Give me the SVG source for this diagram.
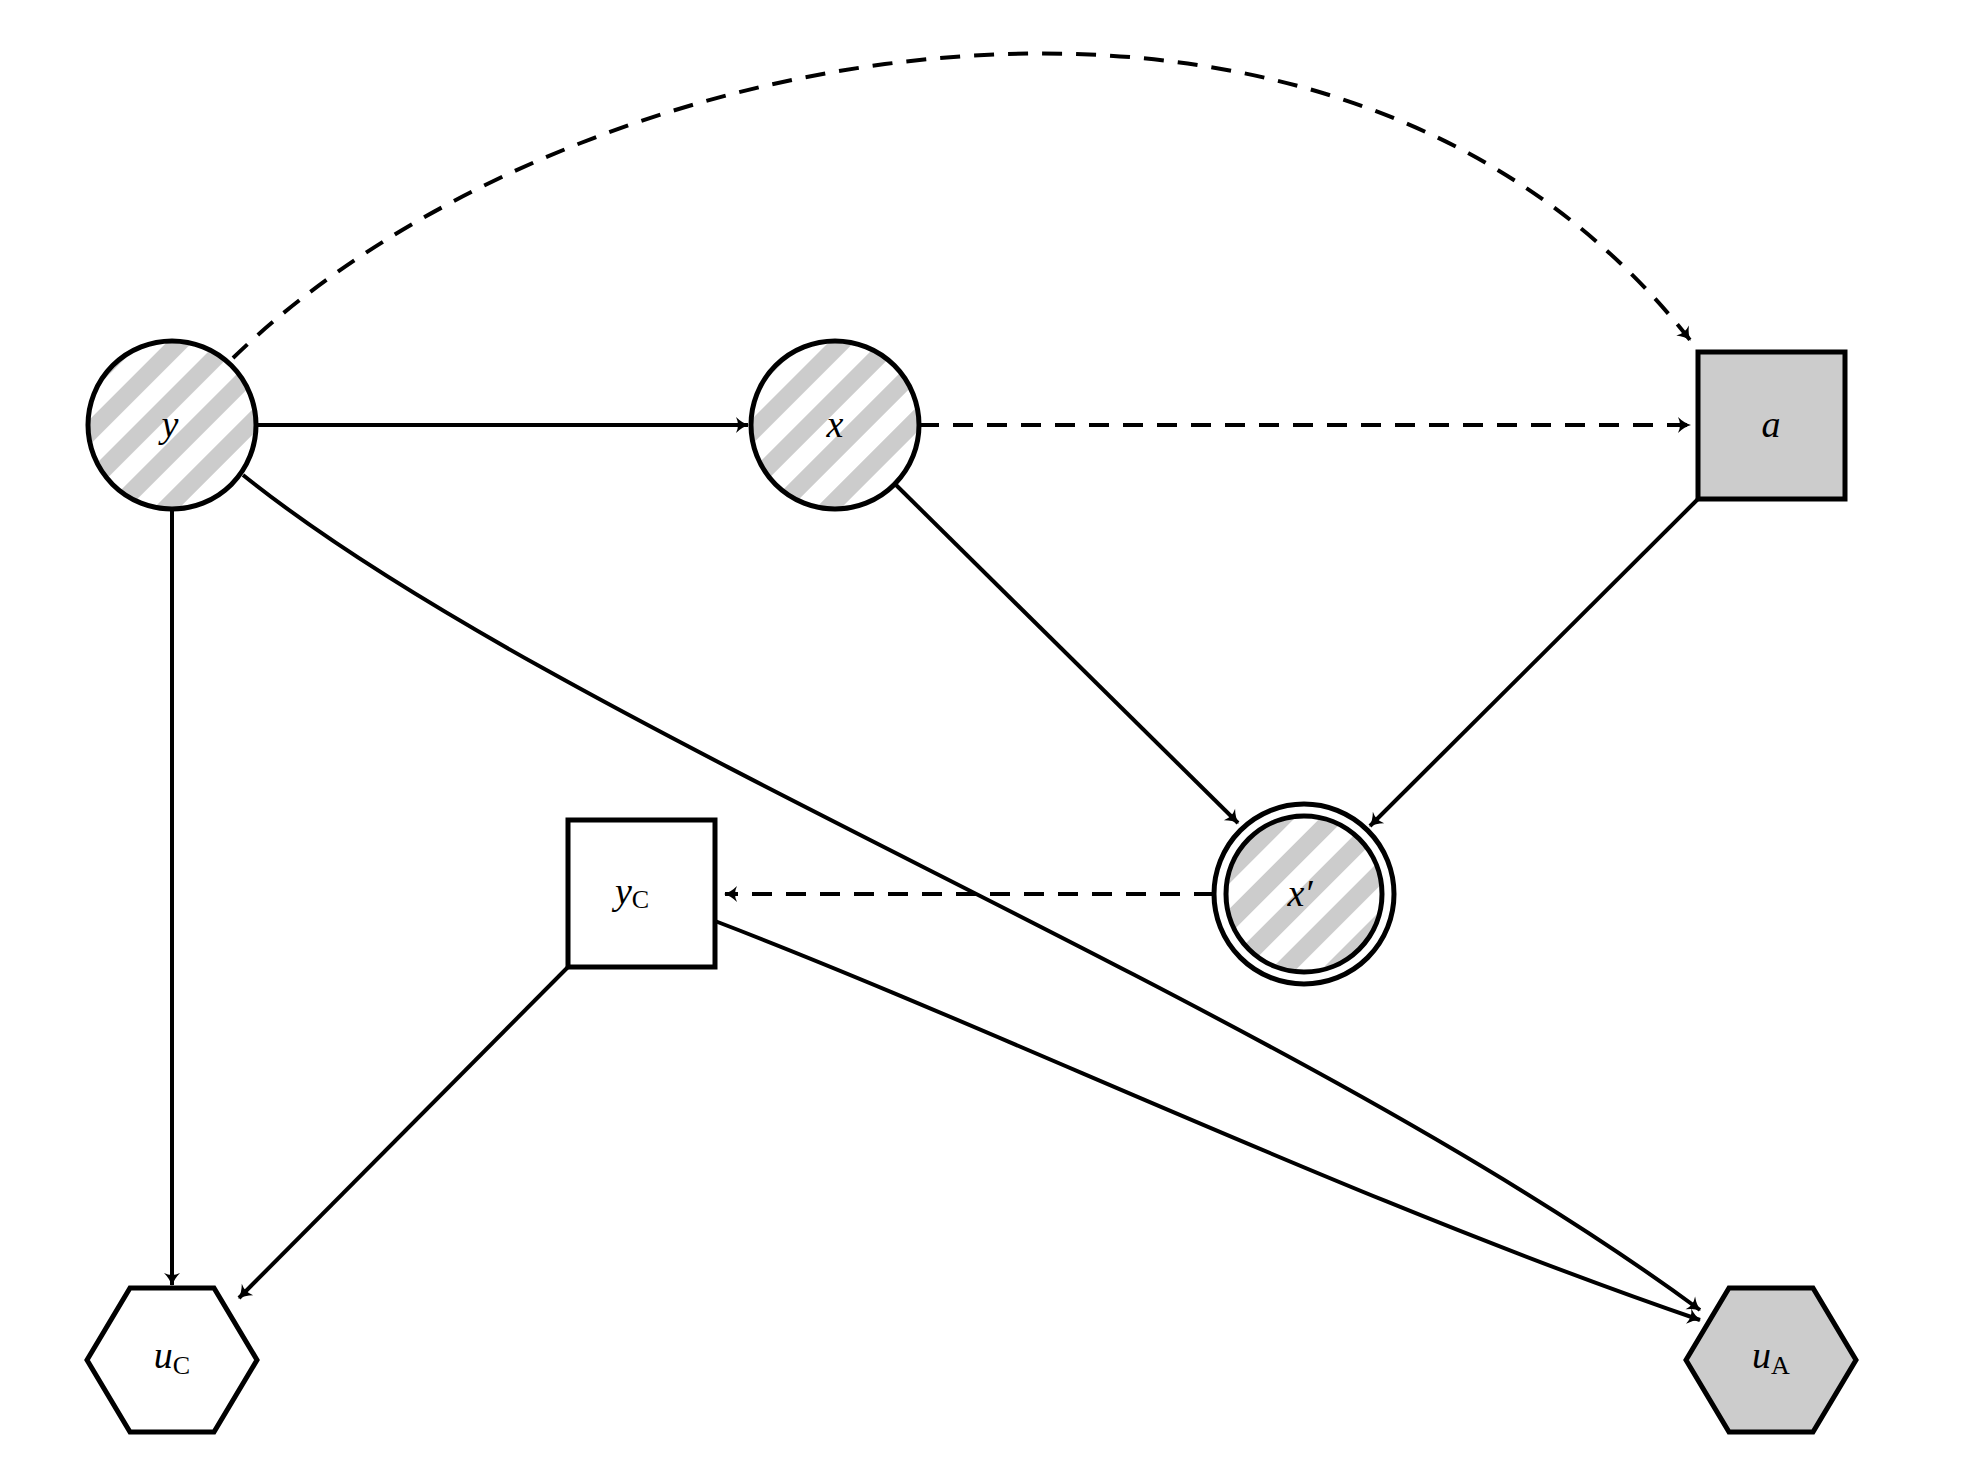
<svg xmlns="http://www.w3.org/2000/svg" width="1969" height="1481" viewBox="0 0 1969 1481">
<style>
.n{stroke:#000;stroke-width:5;}
.e{fill:none;stroke:#000;stroke-width:4;marker-end:url(#ar);}
.d{stroke-dasharray:20,14;}
text{font-family:"Liberation Serif",serif;font-style:italic;font-size:38px;text-anchor:middle;}
.s{font-size:26px;font-style:normal;}
</style>
<defs>
<pattern id="h" patternUnits="userSpaceOnUse" width="36" height="36" patternTransform="rotate(45)">
<rect width="36" height="36" fill="#fff"/><rect width="18" height="36" fill="#cccccc"/>
</pattern>
<marker id="ar" markerWidth="20" markerHeight="20" refX="14" refY="10" orient="auto" markerUnits="userSpaceOnUse">
<path d="M2,2 Q8,8 15,10 Q8,12 2,18 Q6,10 2,2Z" fill="#000"/>
</marker>
</defs>
<rect width="1969" height="1481" fill="#fff"/>
<g id="connectors">
<path class="e d" d="M233,358 C560,40 1330,-120 1690,340"/>
<path class="e" d="M258,425 L748,425"/>
<path class="e d" d="M919,425 L1690,425"/>
<path class="e" d="M172,509 L172,1285"/>
<path class="e" d="M243,475 C560,730 1280,1000 1700,1310"/>
<path class="e" d="M715,921 C1000,1030 1350,1200 1700,1320"/>
<path class="e" d="M895,484 L1238,823"/>
<path class="e" d="M1698,499 L1370,826"/>
<path class="e d" d="M1214,894 L725,894"/>
<path class="e" d="M568,967 L239,1298"/>
</g>
<g id="node-y"><circle class="n" cx="172" cy="425" r="84" fill="url(#h)"/><text x="170" y="437">y</text></g>
<g id="node-x"><circle class="n" cx="835" cy="425" r="84" fill="url(#h)"/><text x="835" y="437">x</text></g>
<g id="node-a"><rect class="n" x="1698" y="352" width="147" height="147" fill="#cccccc"/><text x="1771" y="437">a</text></g>
<g id="node-xp"><circle class="n" cx="1304" cy="894" r="90" fill="#fff"/><circle class="n" cx="1304" cy="894" r="78" fill="url(#h)"/><text x="1300" y="906">x′</text></g>
<g id="node-yC"><rect class="n" x="568" y="820" width="147" height="147" fill="#fff"/><text x="632" y="904">y<tspan class="s" dy="4">C</tspan></text></g>
<g id="node-uC"><polygon class="n" points="87,1360 130,1288 214,1288 257,1360 214,1432 130,1432" fill="#fff"/><text x="172" y="1368">u<tspan class="s" dy="6">C</tspan></text></g>
<g id="node-uA"><polygon class="n" points="1686,1360 1729,1288 1813,1288 1856,1360 1813,1432 1729,1432" fill="#cccccc"/><text x="1771" y="1368">u<tspan class="s" dy="6">A</tspan></text></g>
</svg>
